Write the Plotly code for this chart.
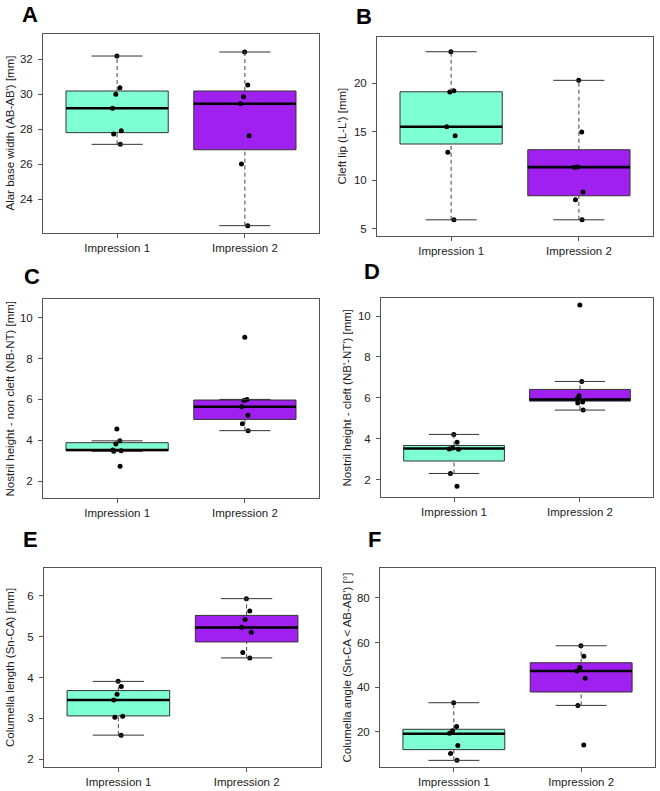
import plotly.graph_objects as go

# ---------------- data ----------------
groups = ["Impression 1", "Impression 2"]
groups_f = ["Impresssion 1", "Impression 2"]

# raw observations (stripchart points)
A_imp1 = [32.19, 30.38, 30.00, 29.20, 27.92, 27.73, 27.14]
A_imp2 = [32.42, 30.53, 29.86, 29.46, 27.63, 26.02, 22.49]
B_imp1 = [23.26, 19.24, 19.10, 15.52, 14.60, 12.88, 5.92]
B_imp2 = [20.31, 14.97, 11.38, 11.33, 8.78, 7.99, 5.92]
C_imp1 = [4.55, 3.97, 3.82, 3.52, 3.49, 3.46, 2.72]
C_imp2 = [9.04, 6.00, 5.95, 5.64, 5.22, 4.81, 4.47]
D_imp1 = [4.21, 3.83, 3.55, 3.50, 3.48, 2.30, 1.67]
D_imp2 = [10.54, 6.80, 6.10, 5.95, 5.80, 5.75, 5.40]
E_imp1 = [3.91, 3.78, 3.59, 3.45, 3.05, 3.03, 2.59]
E_imp2 = [5.93, 5.63, 5.42, 5.23, 5.11, 4.61, 4.48]
F_imp1 = [33.1, 22.5, 20.6, 19.4, 13.9, 10.4, 7.3]
F_imp2 = [58.6, 53.9, 48.9, 47.3, 44.0, 31.9, 14.2]

# box statistics [Impression 1, Impression 2]
A_q1, A_med, A_q3, A_lo, A_hi = [27.81, 26.83], [29.20, 29.46], [30.19, 30.19], [27.14, 22.49], [32.19, 32.42]
B_q1, B_med, B_q3, B_lo, B_hi = [13.74, 8.40], [15.52, 11.36], [19.13, 13.15], [5.92, 5.92], [23.26, 20.31]
C_q1, C_med, C_q3, C_lo, C_hi = [3.49, 5.02], [3.52, 5.64], [3.88, 5.97], [3.46, 4.47], [3.97, 6.00]
D_q1, D_med, D_q3, D_lo, D_hi = [2.91, 5.84], [3.52, 5.92], [3.67, 6.41], [2.30, 5.40], [4.21, 6.80]
E_q1, E_med, E_q3, E_lo, E_hi = [3.06, 4.87], [3.45, 5.225], [3.68, 5.52], [2.59, 4.48], [3.905, 5.93]
F_q1, F_med, F_q3, F_lo, F_hi = [12.1, 37.9], [19.2, 47.3], [21.2, 51.0], [7.3, 31.9], [33.1, 58.6]

# axis labels / ticks
letters = ["A", "B", "C", "D", "E", "F"]
ylabels = [
    "Alar base width (AB-AB') [mm]",
    "Cleft lip (L-L') [mm]",
    "Nostril height - non cleft (NB-NT) [mm]",
    "Nostril height - cleft (NB'-NT') [mm]",
    "Columella length (Sn-CA) [mm]",
    "Columella angle (Sn-CA < AB-AB') [°]",
]
yticks = [
    [24, 26, 28, 30, 32],
    [5, 10, 15, 20],
    [2, 4, 6, 8, 10],
    [2, 4, 6, 8, 10],
    [2, 3, 4, 5, 6],
    [20, 40, 60, 80],
]
yranges = [[22.07, 33.45], [4.25, 24.78], [1.17, 10.92], [1.15, 10.88], [1.81, 6.68], [4.33, 93.4]]

# ---------------- layout geometry (pixels) ----------------
W, H = 660, 791
frames = [  # x0, x1, y0(top), y1(bottom)
    (43, 319, 34, 233),
    (377, 653, 37, 236),
    (43, 319, 299, 498),
    (381, 653, 298, 497),
    (44, 321, 568, 767),
    (380, 655, 568, 767),
]
letter_pos = [(30, 15), (364, 16), (32, 276), (372, 272), (30, 539), (374, 539)]
ylab_x = [9, 342, 9, 346, 9.5, 346]

colors = ["#7FFFD4", "#A020F0"]
FONT = "Liberation Sans, Arial, sans-serif"
BOXW = 0.8
CAPW = 0.4

panels = [
    ([A_imp1, A_imp2], A_q1, A_med, A_q3, A_lo, A_hi, groups),
    ([B_imp1, B_imp2], B_q1, B_med, B_q3, B_lo, B_hi, groups),
    ([C_imp1, C_imp2], C_q1, C_med, C_q3, C_lo, C_hi, groups),
    ([D_imp1, D_imp2], D_q1, D_med, D_q3, D_lo, D_hi, groups),
    ([E_imp1, E_imp2], E_q1, E_med, E_q3, E_lo, E_hi, groups),
    ([F_imp1, F_imp2], F_q1, F_med, F_q3, F_lo, F_hi, groups_f),
]

fig = go.Figure()
layout = dict(
    width=W, height=H, margin=dict(l=0, r=0, t=0, b=0),
    paper_bgcolor="white", plot_bgcolor="white", showlegend=False,
    font=dict(family=FONT, size=11.5, color="#222"),
    annotations=[],
)

for p, (pts, q1, med, q3, lo, hi, ticktext) in enumerate(panels):
    sfx = "" if p == 0 else str(p + 1)
    xa, ya = "x" + sfx, "y" + sfx
    x0, x1, y0, y1 = frames[p]
    for g in range(2):
        xpos = g + 1
        # box
        fig.add_trace(go.Box(
            x=[xpos], q1=[q1[g]], median=[med[g]], q3=[q3[g]],
            lowerfence=[q1[g]], upperfence=[q3[g]],
            width=BOXW, whiskerwidth=0, fillcolor=colors[g],
            line=dict(color="#333", width=1), boxpoints=False,
            xaxis=xa, yaxis=ya, hoverinfo="skip",
        ))
        # dashed whiskers
        fig.add_trace(go.Scatter(
            x=[xpos, xpos, None, xpos, xpos],
            y=[lo[g], q1[g], None, q3[g], hi[g]],
            mode="lines", line=dict(color="#444", width=1, dash="4px,3px"),
            xaxis=xa, yaxis=ya, hoverinfo="skip",
        ))
        # staples
        fig.add_trace(go.Scatter(
            x=[xpos - CAPW / 2, xpos + CAPW / 2, None, xpos - CAPW / 2, xpos + CAPW / 2],
            y=[lo[g], lo[g], None, hi[g], hi[g]],
            mode="lines", line=dict(color="#333", width=1),
            xaxis=xa, yaxis=ya, hoverinfo="skip",
        ))
        # thick median
        fig.add_trace(go.Scatter(
            x=[xpos - BOXW / 2, xpos + BOXW / 2], y=[med[g], med[g]],
            mode="lines", line=dict(color="black", width=2.6),
            xaxis=xa, yaxis=ya, hoverinfo="skip",
        ))
        # jittered points
        fig.add_trace(go.Box(
            x=[xpos] * len(pts[g]), y=pts[g], boxpoints="all", jitter=0.12,
            pointpos=0, width=BOXW, fillcolor="rgba(0,0,0,0)",
            line=dict(color="rgba(0,0,0,0)", width=0),
            marker=dict(color="black", size=5),
            xaxis=xa, yaxis=ya, hoverinfo="skip",
        ))

    axis_common = dict(
        showline=True, mirror=True, linecolor="#555", linewidth=1,
        showgrid=False, zeroline=False, ticks="outside", ticklen=4,
        tickcolor="#555", tickfont=dict(family=FONT, size=11.5, color="#222"),
    )
    layout["xaxis" + sfx] = dict(
        axis_common, domain=[x0 / W, x1 / W], range=[0.42, 2.58],
        tickvals=[1, 2], ticktext=ticktext, anchor=ya, ticklabelstandoff=0,
    )
    layout["yaxis" + sfx] = dict(
        axis_common, domain=[1 - y1 / H, 1 - y0 / H], range=yranges[p],
        tickvals=yticks[p], anchor=xa, ticklabelstandoff=3,
    )
    lx, ly = letter_pos[p]
    layout["annotations"].append(dict(
        text="<b>%s</b>" % letters[p], x=lx / W, y=1 - ly / H,
        xref="paper", yref="paper", showarrow=False,
        font=dict(family=FONT, size=22, color="black"),
        xanchor="center", yanchor="middle",
    ))
    layout["annotations"].append(dict(
        text=ylabels[p], x=ylab_x[p] / W, y=1 - ((y0 + y1) / 2) / H,
        xref="paper", yref="paper", showarrow=False, textangle=-90,
        font=dict(family=FONT, size=11.5, color="#222"),
        xanchor="center", yanchor="middle",
    ))

fig.update_layout(**layout)
fig.write_html(
    "out.html",
    config={"displayModeBar": False},
    post_script="document.body.style.margin='0px';document.body.style.padding='0px';",
)
